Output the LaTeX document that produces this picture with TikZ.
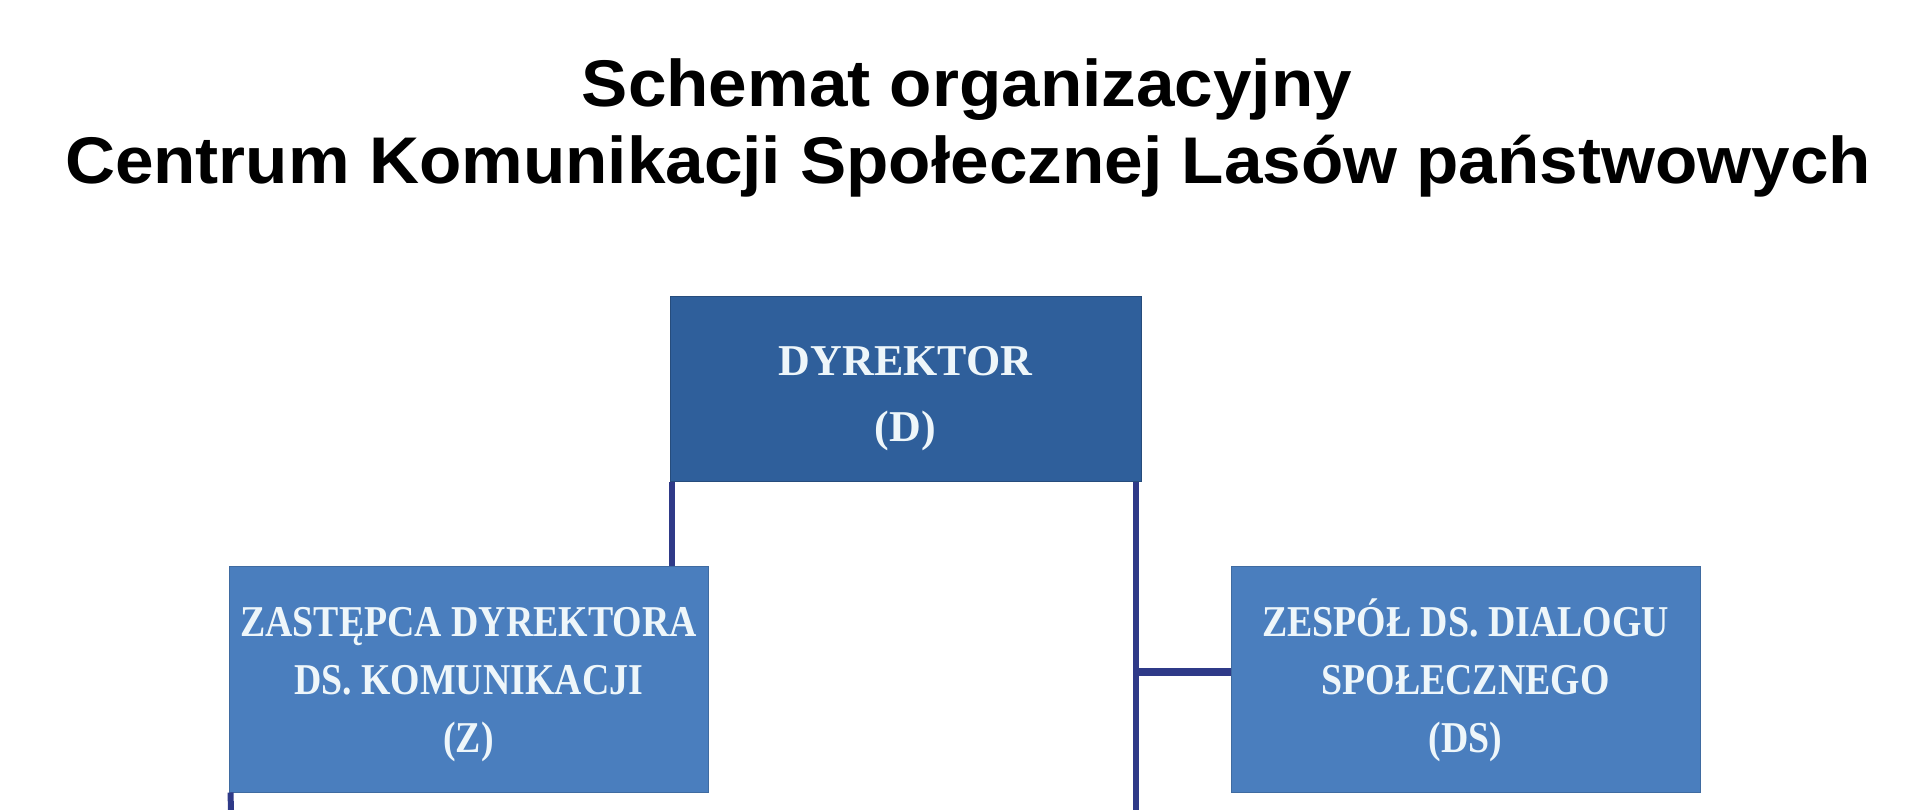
\documentclass[tikz,border=0pt]{standalone}
\usepackage{fontspec}
\newfontfamily\titlefont{Liberation Sans}[FakeStretch=1.05]
\newfontfamily\boxfont{Liberation Serif}
\newfontfamily\narrowfont{Liberation Serif}[FakeStretch=0.86]
\definecolor{dirblue}{HTML}{2F5F9B}
\definecolor{unitblue}{HTML}{4A7EBE}
\definecolor{linkblue}{HTML}{2F3A88}
\definecolor{boxtext}{HTML}{EEF6FA}
\tikzset{
% Box styles for the chart: director on top, units below
director node/.style={rectangle,fill=dirblue,draw=dirblue!80!black,line width=1,text=boxtext,align=center,minimum width=471,minimum height=184,font=\fontsize{44}{66}\boxfont\bfseries},
unit node/.style={rectangle,fill=unitblue,draw=unitblue!85!black,line width=1,text=boxtext,align=center,minimum width=479,minimum height=226,font=\fontsize{44}{58}\narrowfont\bfseries},
link line/.style={draw=linkblue,line width=6}
}

\begin{document}
\begin{tikzpicture}[x=1pt,y=-1pt]
      \useasboundingbox (0,0) rectangle (1920,810);
      % Title
      \node(title)[anchor=base,font=\fontsize{66}{80}\titlefont\bfseries] at (967,107) {Schemat organizacyjny};
      \node(subtitle)[anchor=base,font=\fontsize{66}{80}\titlefont\bfseries] at (968,184) {Centrum Komunikacji Społecznej Lasów państwowych};
      % The boxes (a strut on the first line sets the text a bit lower)
      \node(d)[director node] at (905.5,389) {\rule{0pt}{49pt}DYREKTOR\\(D)};
      \node(z)[unit node] at (468.5,679) {\rule{0pt}{40pt}ZASTĘPCA DYREKTORA\\DS. KOMUNIKACJI\\(Z)};
      \node(ds)[unit node,minimum width=469] at (1465.5,679) {\rule{0pt}{40pt}ZESPÓŁ DS. DIALOGU\\SPOŁECZNEGO\\(DS)};
      % Free ends of the lines at the lower edge
      \coordinate(dend) at (1136,810);
      \coordinate(zend) at (231,810);
      % Connectors
      \draw[link line] ([xshift=2]d.south west) -- ([xshift=2]d.south west |- z.north);
      \draw[link line] (d.south -| dend) -- (dend);
      \draw[link line,line width=8] ([yshift=7]dend |- ds.west) -- ([yshift=7]ds.west);
      \draw[link line] ([xshift=2]z.south west) -- (zend);
    \end{tikzpicture}
\end{document}
